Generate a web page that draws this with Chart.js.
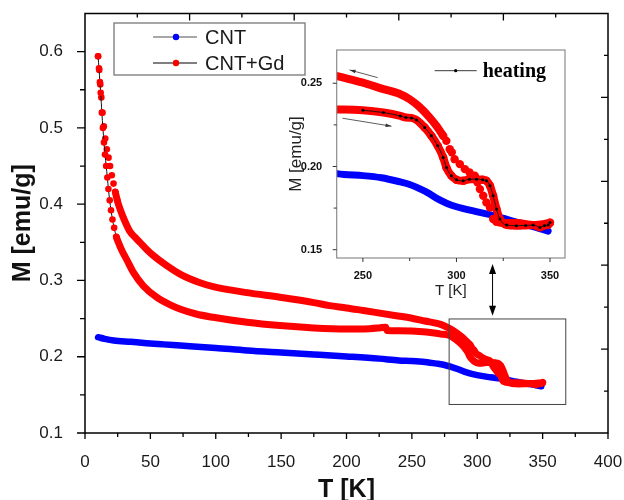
<!DOCTYPE html>
<html>
<head>
<meta charset="utf-8">
<script src="https://cdn.jsdelivr.net/npm/chart.js@4.4.1/dist/chart.umd.min.js"></script>
<style>
  html, body { margin: 0; padding: 0; background: #fff; }
  #wrap { position: relative; width: 624px; height: 500px; }
  #main { position: absolute; left: 0; top: 0; }
  #inset { position: absolute; left: 270px; top: 40px; }
</style>
</head>
<body>
<div id="wrap">
  <canvas id="main" width="624" height="500"></canvas>
  <canvas id="inset" width="310" height="265"></canvas>
</div>
<script>
// CNT
const cntT = [10, 15, 22, 35, 47, 60, 73, 100, 124, 150, 175, 200, 225, 240, 250, 260, 270, 275, 280, 285, 290, 295, 300, 310, 320, 330, 340, 349];
const cntM = [0.2256, 0.2235, 0.2213, 0.2195, 0.2178, 0.2162, 0.2147, 0.2115, 0.2082, 0.2055, 0.2030, 0.2004, 0.1975, 0.1952, 0.1945, 0.1932, 0.1907, 0.1892, 0.1868, 0.1840, 0.1805, 0.1778, 0.1758, 0.1730, 0.1705, 0.1672, 0.1642, 0.1612];

// CNT+Gd, cooling branch (upper curve)
const coolT = [10, 10.9, 11.7, 12.5, 13.4, 14.4, 15.5, 16.7, 18, 19.2, 20.5, 21.8, 23.2, 24.7, 26.5, 28.7, 31.2, 34.4, 38, 42, 47, 52, 62, 73, 88, 98, 124, 149, 175, 187, 200, 213, 238, 250, 260, 270, 275, 280, 285.7, 289.3, 292.9, 294.6, 296.4, 297.5, 299, 301.8, 304.5, 307, 309.8, 311.2, 312.5, 314.3, 316, 317.9, 319.6, 321.4, 325, 332, 341, 350];
const coolM = [0.594, 0.576, 0.557, 0.540, 0.520, 0.502, 0.486, 0.472, 0.461, 0.450, 0.438, 0.427, 0.416, 0.405, 0.395, 0.385, 0.375, 0.364, 0.357, 0.350, 0.341, 0.333, 0.320, 0.308, 0.297, 0.292, 0.284, 0.278, 0.271, 0.267, 0.264, 0.2605, 0.2538, 0.2504, 0.2468, 0.2434, 0.2404, 0.2360, 0.2294, 0.2244, 0.2184, 0.2154, 0.2104, 0.2085, 0.2044, 0.2014, 0.1984, 0.1964, 0.1944, 0.1905, 0.1864, 0.1824, 0.1784, 0.1754, 0.1684, 0.1668, 0.1660, 0.1660, 0.1648, 0.1660];

// CNT+Gd, heating branch (lower curve)
const heatT = [10, 10.7, 11.4, 12, 12.9, 13.7, 14.5, 15.3, 16.2, 17.1, 17.9, 18.9, 19.9, 21, 22.3, 24, 26, 28.3, 32, 37, 44.6, 55, 64, 72.6, 85, 98, 124, 149, 175, 200, 213, 225, 230, 231, 240, 250, 261, 270, 273, 276, 278.6, 283, 286.6, 290, 292.9, 294.6, 297.3, 300, 303.6, 307, 310.7, 314, 316, 317.9, 319.6, 321.4, 323.2, 326.8, 332, 337, 341, 344.6, 347, 349, 350];
const heatM = [0.594, 0.578, 0.560, 0.546, 0.520, 0.500, 0.481, 0.465, 0.450, 0.435, 0.420, 0.405, 0.392, 0.380, 0.369, 0.357, 0.348, 0.339, 0.327, 0.3105, 0.293, 0.2777, 0.269, 0.2626, 0.256, 0.2517, 0.2451, 0.2408, 0.2378, 0.2365, 0.2365, 0.2378, 0.2388, 0.2345, 0.2342, 0.2338, 0.2324, 0.2304, 0.2294, 0.2292, 0.2280, 0.2234, 0.2184, 0.2124, 0.2054, 0.1994, 0.1944, 0.1920, 0.1914, 0.1924, 0.1924, 0.1920, 0.1914, 0.1884, 0.1824, 0.1744, 0.1684, 0.1648, 0.1644, 0.1646, 0.1648, 0.1634, 0.1645, 0.1648, 0.1664];

// tick labels
const xTicksMain = [0, 50, 100, 150, 200, 250, 300, 350, 400];
const yTicksMain = [0.1, 0.2, 0.3, 0.4, 0.5, 0.6];
const xTicksInset = [250, 300, 350];
const yTicksInset = [0.15, 0.20, 0.25];

const RED = '#ff0000';
const BLUE = '#0000ff';
const NONE = 'rgba(0,0,0,0)';
const SANS = "'Liberation Sans', Arial, sans-serif";

const pts = (xs, ys) => xs.map((x, i) => ({ x: x, y: ys[i] }));

// keep the plot frame exactly where the layout puts it
const noOverflowX = (h) => s => { s.height = h; s.paddingLeft = 0; s.paddingRight = 0; };
const noOverflowY = (w) => s => { s.width = w; s.paddingTop = 0; s.paddingBottom = 0; };

function arrowHead(ctx, x0, y0, x1, y1, len, half) {
  const a = Math.atan2(y1 - y0, x1 - x0);
  const c = Math.cos(a), s = Math.sin(a);
  ctx.beginPath();
  ctx.moveTo(x1, y1);
  ctx.lineTo(x1 - len * c + half * s, y1 - len * s - half * c);
  ctx.lineTo(x1 - len * c - half * s, y1 - len * s + half * c);
  ctx.closePath();
  ctx.fill();
}

// ---------- main chart ----------
const mainDecor = {
  id: 'mainDecor',
  afterDatasetsDraw(chart) {
    const { ctx, chartArea: a, scales: { x, y } } = chart;
    ctx.save();
    ctx.strokeStyle = '#000';
    ctx.lineWidth = 1.5;
    ctx.strokeRect(a.left, a.top, a.right - a.left, a.bottom - a.top);

    ctx.lineWidth = 1.3;
    ctx.beginPath();
    // bottom ticks (outside)
    for (let v = 0; v <= 400; v += 25) {
      const px = x.getPixelForValue(v);
      ctx.moveTo(px, a.bottom);
      ctx.lineTo(px, a.bottom + (v % 50 === 0 ? 6 : 4));
    }
    // left ticks (outside)
    for (let k = 2; k <= 12; k++) {
      const py = y.getPixelForValue(k * 0.05);
      ctx.moveTo(a.left, py);
      ctx.lineTo(a.left - (k % 2 === 0 ? 8 : 5), py);
    }
    // top and right ticks (inside), own linked scales
    for (let k = 1; k < 10; k++) {
      const px = a.left + (a.right - a.left) * k / 10;
      ctx.moveTo(px, a.top);
      ctx.lineTo(px, a.top + (k % 2 === 0 ? 7 : 4));
      const py = a.bottom - (a.bottom - a.top) * k / 10;
      ctx.moveTo(a.right, py);
      ctx.lineTo(a.right - (k % 2 === 0 ? 7 : 4), py);
    }
    ctx.stroke();

    // zoom rectangle and double arrow
    ctx.strokeStyle = '#444';
    ctx.lineWidth = 1;
    const rx0 = x.getPixelForValue(278.5), rx1 = x.getPixelForValue(367.7);
    const ry0 = y.getPixelForValue(0.2495), ry1 = y.getPixelForValue(0.1374);
    ctx.strokeRect(rx0, ry0, rx1 - rx0, ry1 - ry0);
    const ax = x.getPixelForValue(311.7);
    const ay0 = y.getPixelForValue(0.3216), ay1 = y.getPixelForValue(0.2538);
    ctx.strokeStyle = '#000';
    ctx.fillStyle = '#000';
    ctx.beginPath();
    ctx.moveTo(ax, ay0 + 6);
    ctx.lineTo(ax, ay1 - 6);
    ctx.stroke();
    arrowHead(ctx, ax, ay1, ax, ay0, 10, 3.5);
    arrowHead(ctx, ax, ay0, ax, ay1, 10, 3.5);

    // legend
    const lx = a.left + 29, ly = a.top + 9.5;
    ctx.fillStyle = '#fff';
    ctx.fillRect(lx, ly, 191, 52);
    ctx.strokeStyle = '#777';
    ctx.lineWidth = 1.3;
    ctx.strokeRect(lx, ly, 191, 52);
    const rows = [['CNT', BLUE, '#8a8a8a', 14], ['CNT+Gd', RED, '#555', 40]];
    ctx.font = '20px ' + SANS;
    ctx.textBaseline = 'middle';
    rows.forEach(([label, dot, line, dy]) => {
      ctx.strokeStyle = line;
      ctx.lineWidth = 1.3;
      ctx.beginPath();
      ctx.moveTo(lx + 39, ly + dy);
      ctx.lineTo(lx + 83, ly + dy);
      ctx.stroke();
      ctx.fillStyle = dot;
      ctx.beginPath();
      ctx.arc(lx + 62, ly + dy, 3.2, 0, Math.PI * 2);
      ctx.fill();
      ctx.fillStyle = '#1a1a1a';
      ctx.fillText(label, lx + 91, ly + dy + 1);
    });
    ctx.restore();
  }
};

const lowT = 24;
new Chart(document.getElementById('main'), {
  type: 'line',
  data: {
    datasets: [
      {
        label: 'CNT+Gd heating',
        data: pts(heatT, heatM),
        order: 2,
        borderColor: RED,
        borderWidth: 7,
        borderJoinStyle: 'round',
        borderCapStyle: 'round',
        cubicInterpolationMode: 'monotone',
        pointRadius: c => heatT[c.dataIndex] < lowT + 2 ? 3.3 : 0,
        pointBackgroundColor: RED,
        pointBorderWidth: 0,
        segment: {
          borderColor: c => heatT[c.p1DataIndex] <= lowT ? '#111' : RED,
          borderWidth: c => heatT[c.p1DataIndex] <= lowT ? 1 : 7
        }
      },
      {
        label: 'CNT+Gd cooling',
        data: pts(coolT, coolM),
        order: 3,
        borderColor: RED,
        borderWidth: 7,
        borderJoinStyle: 'round',
        borderCapStyle: 'round',
        cubicInterpolationMode: 'monotone',
        pointRadius: c => coolT[c.dataIndex] < lowT + 2 ? 3.3 : 0,
        pointBackgroundColor: RED,
        pointBorderWidth: 0,
        segment: {
          borderColor: c => coolT[c.p1DataIndex] <= lowT ? NONE : RED
        }
      },
      {
        label: 'CNT',
        data: pts(cntT, cntM),
        order: 4,
        borderColor: BLUE,
        borderWidth: 6.5,
        borderJoinStyle: 'round',
        borderCapStyle: 'round',
        cubicInterpolationMode: 'monotone',
        pointRadius: 0
      }
    ]
  },
  options: {
    responsive: false,
    animation: false,
    events: [],
    layout: { padding: { top: 13.5, right: 16, left: 0, bottom: 0 } },
    plugins: { legend: { display: false }, tooltip: { enabled: false } },
    scales: {
      x: {
        type: 'linear', min: 0, max: 400,
        afterFit: noOverflowX(67),
        afterBuildTicks: s => { s.ticks = xTicksMain.map(v => ({ value: v })); },
        grid: { display: false },
        border: { display: false },
        ticks: { padding: 11, color: '#1a1a1a', font: { family: SANS, size: 17 }, maxRotation: 0 },
        title: { display: true, text: 'T [K]', color: '#111', font: { family: SANS, size: 25, weight: 'bold' }, padding: { top: 0, bottom: -5 } }
      },
      y: {
        type: 'linear', min: 0.1, max: 0.65,
        afterFit: noOverflowY(85),
        afterBuildTicks: s => { s.ticks = yTicksMain.map(v => ({ value: v })); },
        grid: { display: false },
        border: { display: false },
        ticks: { padding: 14, color: '#1a1a1a', font: { family: SANS, size: 17 }, callback: v => v.toFixed(1) },
        title: { display: true, text: 'M [emu/g]', color: '#111', font: { family: SANS, size: 25, weight: 'bold' }, padding: { top: 8, bottom: 0 } }
      }
    }
  },
  plugins: [mainDecor]
});

// ---------- inset ----------
const insetDecor = {
  id: 'insetDecor',
  afterDatasetsDraw(chart) {
    const { ctx, chartArea: a, scales: { x, y } } = chart;
    ctx.save();
    ctx.strokeStyle = '#8c8c8c';
    ctx.lineWidth = 1.2;
    ctx.strokeRect(a.left, a.top, a.right - a.left, a.bottom - a.top);
    ctx.strokeStyle = '#333';
    ctx.lineWidth = 1;
    ctx.beginPath();
    for (let v = 250; v <= 350; v += 25) {
      const px = x.getPixelForValue(v);
      ctx.moveTo(px, a.bottom);
      ctx.lineTo(px, a.bottom + (v % 50 === 0 ? 4 : 3));
    }
    for (let k = 6; k <= 10; k++) {
      const py = y.getPixelForValue(k * 0.025);
      ctx.moveTo(a.left, py);
      ctx.lineTo(a.left - (k % 2 === 0 ? 4 : 3), py);
    }
    ctx.stroke();

    // direction arrows
    ctx.strokeStyle = '#333';
    ctx.fillStyle = '#333';
    ctx.lineWidth = 0.8;
    const arrows = [[257.9, 0.2534, 242.9, 0.2580], [239.1, 0.2290, 265.3, 0.2242]];
    arrows.forEach(([t0, m0, t1, m1]) => {
      const x0 = x.getPixelForValue(t0), y0 = y.getPixelForValue(m0);
      const x1 = x.getPixelForValue(t1), y1 = y.getPixelForValue(m1);
      ctx.beginPath();
      ctx.moveTo(x0, y0);
      ctx.lineTo(x1, y1);
      ctx.stroke();
      arrowHead(ctx, x0, y0, x1, y1, 6, 1.8);
    });

    // "heating" key
    const ky = a.top + 20.7;
    ctx.strokeStyle = '#222';
    ctx.lineWidth = 0.9;
    ctx.beginPath();
    ctx.moveTo(a.left + 98, ky);
    ctx.lineTo(a.left + 140, ky);
    ctx.stroke();
    ctx.fillStyle = '#000';
    ctx.beginPath();
    ctx.arc(a.left + 119, ky, 1.6, 0, Math.PI * 2);
    ctx.fill();
    ctx.font = "bold 20px 'Liberation Serif', 'Times New Roman', serif";
    ctx.textBaseline = 'middle';
    ctx.fillText('heating', a.left + 146, ky + 1);
    ctx.restore();
  }
};

const heatBlackT = heatT.filter(t => t >= 249);
const heatBlackM = heatM.filter((m, i) => heatT[i] >= 249);

new Chart(document.getElementById('inset'), {
  type: 'line',
  data: {
    datasets: [
      {
        label: 'heating',
        data: pts(heatBlackT, heatBlackM),
        order: 1,
        borderColor: '#111',
        borderWidth: 0.9,
        cubicInterpolationMode: 'monotone',
        pointRadius: 1.5,
        pointBackgroundColor: '#000',
        pointBorderWidth: 0,
        clip: 0
      },
      {
        label: 'CNT+Gd heating',
        data: pts(heatT, heatM),
        order: 2,
        borderColor: RED,
        borderWidth: 8,
        borderJoinStyle: 'round',
        borderCapStyle: 'round',
        cubicInterpolationMode: 'monotone',
        pointRadius: c => (heatT[c.dataIndex] >= 283 && heatT[c.dataIndex] <= 326) ? 4.2 : 0,
        pointBackgroundColor: RED,
        pointBorderWidth: 0,
        clip: 0
      },
      {
        label: 'CNT+Gd cooling',
        data: pts(coolT, coolM),
        order: 3,
        borderColor: RED,
        borderWidth: 8,
        borderJoinStyle: 'round',
        borderCapStyle: 'round',
        cubicInterpolationMode: 'monotone',
        pointRadius: c => (coolT[c.dataIndex] >= 292 && coolT[c.dataIndex] <= 322) ? 4.2 : 0,
        pointBackgroundColor: RED,
        pointBorderWidth: 0,
        segment: {
          borderColor: c => (coolT[c.p0DataIndex] >= 292.9 && coolT[c.p1DataIndex] <= 321.4) ? NONE : RED
        },
        clip: 0
      },
      {
        label: 'CNT',
        data: pts(cntT, cntM),
        order: 4,
        borderColor: BLUE,
        borderWidth: 7,
        borderJoinStyle: 'round',
        borderCapStyle: 'round',
        cubicInterpolationMode: 'monotone',
        pointRadius: 0,
        clip: 0
      }
    ]
  },
  options: {
    responsive: false,
    animation: false,
    events: [],
    layout: { padding: { top: 10, right: 15, left: 0, bottom: 0 } },
    plugins: { legend: { display: false }, tooltip: { enabled: false } },
    scales: {
      x: {
        type: 'linear', min: 236, max: 358,
        afterFit: noOverflowX(47),
        afterBuildTicks: s => { s.ticks = xTicksInset.map(v => ({ value: v })); },
        grid: { display: false },
        border: { display: false },
        ticks: { padding: 3.5, color: '#111', font: { family: SANS, size: 11, weight: 'bold' }, maxRotation: 0 },
        title: { display: true, text: 'T [K]', color: '#222', font: { family: SANS, size: 15 }, padding: { top: 0, bottom: 5 } }
      },
      y: {
        type: 'linear', min: 0.145, max: 0.27,
        afterFit: noOverflowY(66.7),
        afterBuildTicks: s => { s.ticks = yTicksInset.map(v => ({ value: v })); },
        grid: { display: false },
        border: { display: false },
        ticks: { padding: 6.5, color: '#111', font: { family: SANS, size: 11, weight: 'bold' }, callback: v => v.toFixed(2) },
        title: { display: true, text: 'M [emu/g]', color: '#222', font: { family: SANS, size: 17 }, padding: { top: 16, bottom: 0 } }
      }
    }
  },
  plugins: [insetDecor]
});
</script>
</body>
</html>
